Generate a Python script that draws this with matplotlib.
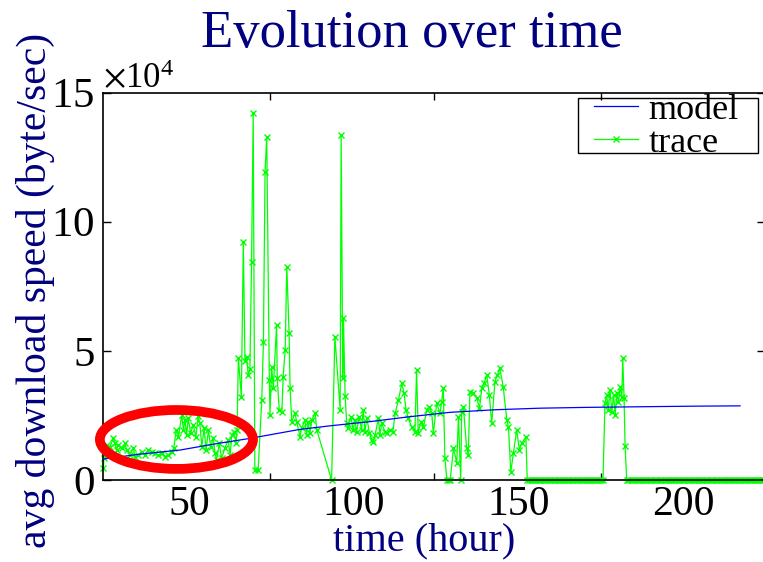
import numpy as np
import matplotlib
matplotlib.use('Agg')
import matplotlib.pyplot as plt
from matplotlib.patches import Ellipse, Rectangle
from matplotlib.ticker import ScalarFormatter

params = {'font.family': 'Liberation Serif',
          'mathtext.fontset': 'stix',
          'axes.linewidth': 1.2,
          'xtick.direction': 'in',
          'ytick.direction': 'in',
          'xtick.labelsize': 30,
          'ytick.labelsize': 31,
          'figure.dpi': 100,
          'savefig.dpi': 100,
          }
plt.rcParams.update(params)

#################### DATA ##############################

# model curve (hour, speed in 1e4 byte/sec)
model_hour = [23.9, 35, 47.3, 58, 68.5, 83.7, 93, 105, 117, 129.3, 143, 156.6,
              170, 190, 205, 217.3]
model_speed = [0.81, 1.0, 1.16, 1.40, 1.61, 1.96, 2.10, 2.26, 2.45, 2.62, 2.72,
               2.78, 2.81, 2.84, 2.86, 2.87]

# trace measurements (hour, speed in 1e4 byte/sec)
busy_hour = [
    24.0, 24.2, 25.0, 26.0, 27.0, 27.5, 28.0, 28.5, 29.6, 30.6, 31.1, 32.1,
    33.1, 33.6, 34.6, 35.6, 36.6, 37.6, 38.7, 39.7, 40.7, 41.7, 42.7, 43.7,
    44.7, 45.4, 46.1, 46.8, 47.8, 48.3, 48.8, 49.3, 49.8, 50.5, 51.3, 52.1,
    52.8, 53.3, 53.9, 54.6, 55.2, 55.9, 56.6, 57.4, 57.9, 58.4, 59.2, 59.9,
    60.9, 61.9, 62.5, 63.0, 63.7, 64.3, 64.6, 65.0,
    65.9, 66.5, 67.0, 67.5, 68.0, 68.5, 69.0, 69.5, 70.0, 71.0, 72.1, 72.6,
    73.1, 73.6, 74.4, 74.6, 75.1, 75.6, 76.6, 76.8, 77.4, 78.2, 78.6, 79.2,
    79.7, 80.4, 80.7, 81.2, 82.2, 82.7, 83.7, 84.2, 85.2, 85.7, 86.2, 86.7,
    87.3, 88.3, 88.8, 93.3, 94.3, 95.9, 96.2, 96.7, 96.9, 97.4, 97.9, 98.4,
    99.1, 99.9, 100.4, 100.9, 101.7, 102.4, 102.9, 103.4, 104.0, 104.8, 105.5,
    106.0, 106.5, 107.5, 108.0, 108.5, 109.5, 110.2, 111.0, 111.9, 112.6,
    113.6, 114.6, 115.3, 115.9, 116.6, 117.6, 118.6, 119.1, 119.6, 120.4,
    121.2, 122.2, 122.9, 123.7, 124.2, 125.2, 126.2, 126.7, 127.2, 127.7,
    128.3, 128.8, 129.3, 130.3, 131.3, 131.8, 132.5, 132.8, 133.3, 134.3,
    134.8, 135.3, 136.3, 137.4, 138.2, 138.9, 139.6, 140.4, 141.2, 141.9,
    142.9, 143.6, 144.4, 145.4, 146.5, 147.0, 147.7, 148.5, 149.5, 150.3,
    151.0, 152.3]
busy_speed = [
    0.45, 0.85, 1.36, 1.29, 1.61, 1.42, 1.16, 1.36, 1.23, 1.42, 1.16, 0.97,
    1.23, 0.90, 0.97, 1.10, 0.97, 1.16, 1.10, 1.03, 0.97, 1.03, 0.90, 0.97,
    1.10, 1.23, 1.94, 1.68, 2.52, 1.94, 2.32, 1.74, 2.39, 1.81, 2.13, 1.68,
    2.48, 2.19, 1.29, 2.00, 1.16, 1.94, 1.29, 1.61, 1.03, 0.77, 1.42, 0.84,
    1.23, 1.55, 0.97, 1.74, 1.87, 1.42, 1.94, 4.71,
    3.22, 9.23, 4.60, 4.77, 4.06, 4.30, 8.45, 14.2, 0.39, 0.39, 3.10, 5.35,
    11.94, 13.29, 3.87, 2.52, 4.39, 3.55, 6.00, 3.94, 2.71, 2.64, 4.00, 5.03,
    8.26, 5.68, 3.55, 2.26, 2.58, 2.26, 1.68, 2.00, 2.32, 1.74, 2.26, 1.81,
    2.32, 2.58, 1.94, 0.00, 5.55, 2.71, 13.36, 3.94, 6.26, 3.25, 2.19, 2.00,
    2.45, 1.94, 2.32, 1.87, 2.45, 1.94, 2.71, 1.87, 2.39, 1.81, 1.55,
    1.48, 1.74, 2.39, 1.74, 2.19, 1.87, 1.81, 1.94, 1.87, 2.58,
    3.10, 3.74, 3.36, 2.71, 2.39, 2.06, 1.87, 4.26, 1.81, 2.26,
    2.06, 2.71, 2.84, 2.58, 1.81, 2.97, 2.58, 3.03, 3.55, 0.84,
    0.00, 0.00, 0.00, 1.23, 0.67, 2.43, 0.00, 2.64, 2.84, 1.23,
    0.97, 3.42, 3.36, 3.16, 2.78, 3.55, 3.74, 4.06, 3.29, 2.19,
    3.81, 4.06, 4.32, 3.61, 2.32, 2.04, 0.32, 1.03, 1.94, 1.16,
    1.42, 1.65]

# first idle stretch (speed 0)
idle_hour_a = [
    152.7, 153.2, 153.7, 154.2, 154.7, 155.2, 155.7, 156.2, 156.7, 157.2,
    157.7, 158.2, 158.7, 159.2, 159.7, 160.2, 160.7, 161.2, 161.7, 162.2,
    162.7, 163.2, 163.7, 164.2, 164.7, 165.2, 165.7, 166.2, 166.7, 167.2,
    167.7, 168.2, 168.7, 169.2, 169.7, 170.2, 170.7, 171.2, 171.7, 172.2,
    172.7, 173.2, 173.7, 174.2, 174.7, 175.2, 175.7]

# second busy stretch
late_hour = [176.3, 176.8, 177.3, 177.8, 178.4, 178.9, 179.4, 179.9, 180.4,
             180.9, 181.4, 181.7, 182.1, 182.4]
late_speed = [2.97, 3.29, 2.71, 3.48, 2.64, 3.29, 2.52, 3.36, 3.03,
              3.61, 3.22, 4.71, 3.16, 1.32]

# second idle stretch (speed 0)
idle_hour_b = [
    182.9, 183.4, 183.9, 184.4, 184.9, 185.4, 185.9, 186.4, 186.9, 187.4,
    187.9, 188.4, 188.9, 189.4, 189.9, 190.4, 190.9, 191.4, 191.9, 192.4,
    192.9, 193.4, 193.9, 194.4, 194.9, 195.4, 195.9, 196.4, 196.9, 197.4,
    197.9, 198.4, 198.9, 199.4, 199.9, 200.4, 200.9, 201.4, 201.9, 202.4,
    202.9, 203.4, 203.9, 204.4, 204.9, 205.4, 205.9, 206.4, 206.9, 207.4,
    207.9, 208.4, 208.9, 209.4, 209.9, 210.4, 210.9, 211.4, 211.9, 212.4,
    212.9, 213.4, 213.9, 214.4, 214.9, 215.4, 215.9, 216.4, 216.9, 217.4,
    217.9, 218.4, 218.9, 219.4, 219.9, 220.4, 220.9, 221.4, 221.9, 222.4,
    222.9, 223.4, 223.9, 224.4, 224.9]

trace_hour = busy_hour + idle_hour_a + late_hour + idle_hour_b
trace_speed = (busy_speed + [0.0] * len(idle_hour_a) + late_speed
               + [0.0] * len(idle_hour_b))

label_hours = [50, 100, 150, 200]
mark_hours = [74.5, 124.5, 175]

#################### PLOT ##############################

fig = plt.figure(figsize=(7.63, 5.62))
ax1 = fig.add_axes([0.135, 0.1459, 0.8677, 0.6895])

ax1.plot(model_hour, np.array(model_speed) * 1e4, color='#0000ff', lw=0.9,
         label='model', zorder=3)
ax1.plot(trace_hour, np.array(trace_speed) * 1e4, color='#00ff00', lw=0.9,
         marker='x', ms=4.5, mew=1.0, label='trace', zorder=2, clip_on=False)

ax1.set_xlim(23.9, 224.9)
ax1.set_ylim(0, 15e4)

ax1.set_xticks(label_hours)
ax1.set_xticks(mark_hours, minor=True)
ax1.tick_params(axis='x', which='major', length=0, pad=4)
ax1.tick_params(axis='x', which='minor', length=5, width=1, top=True)
ax1.set_yticks([0, 5e4, 10e4, 15e4])
ax1.tick_params(axis='y', which='major', length=6, width=1, right=True, pad=6)

fmt = ScalarFormatter(useMathText=True)
fmt.set_powerlimits((4, 4))
ax1.yaxis.set_major_formatter(fmt)
ax1.yaxis.get_offset_text().set_fontsize(25)

legend = ax1.legend(loc='upper right', bbox_to_anchor=(0.968, 0.8335),
                    bbox_transform=fig.transFigure, fontsize=26,
                    frameon=False, borderpad=0, labelspacing=0.0,
                    handletextpad=0.3, handlelength=1.2, borderaxespad=0)
# legend box, drawn smaller than the text like the original
fig.patches.append(Rectangle((578 / 763, 1 - 153 / 562), 180 / 763, 55.5 / 562,
                             transform=fig.transFigure, fill=False,
                             edgecolor='black', lw=1.0, zorder=1))

# highlight of the early period
ax1.add_patch(Ellipse((46.2, 1.57e4), 46.5, 2.28e4, fill=False,
                      edgecolor='#ff0000', lw=7, clip_on=False, zorder=5))

fig.text(0.54, 0.916, 'Evolution over time', fontsize=38, color='navy',
         ha='center', va='baseline')
fig.text(0.556, 0.021, 'time (hour)', fontsize=29, color='navy',
         ha='center', va='baseline')
fig.text(0.046, 0.484, 'avg download speed (byte/sec)', fontsize=30,
         color='navy', ha='center', va='center', rotation=90)

fig.savefig('out.png', dpi=100)
